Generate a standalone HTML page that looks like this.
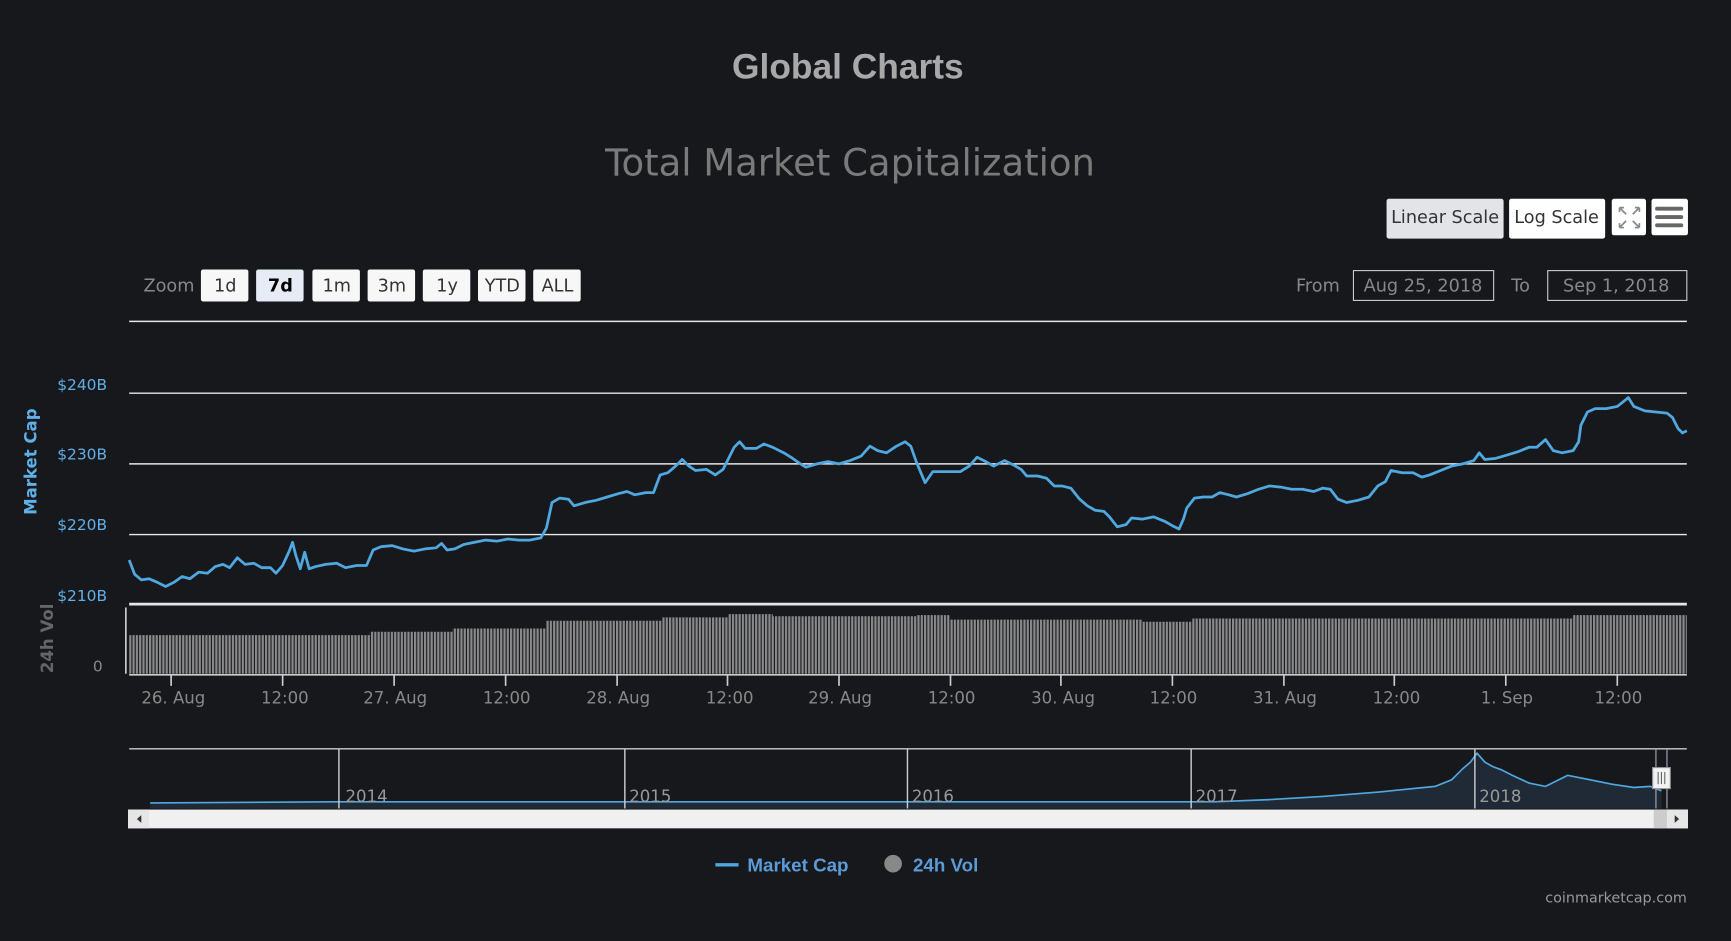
<!DOCTYPE html>
<html><head><meta charset="utf-8"><style>
html,body{margin:0;padding:0;background:#17181c;overflow:hidden}
svg{display:block}
text{font-family:"DejaVu Sans","Liberation Sans",sans-serif}
text.lib{font-family:"Liberation Sans",sans-serif}
</style></head><body>
<svg width="1731" height="941" viewBox="0 0 1568 852" preserveAspectRatio="none" xmlns="http://www.w3.org/2000/svg">
<defs>
<pattern id="bars" x="117" y="0" width="3" height="10" patternUnits="userSpaceOnUse">
<rect x="0" y="0" width="2" height="10" fill="#8a8a8a"/>
</pattern>
</defs>
<rect width="1568" height="852" fill="#17181c"/>
<text class="lib" x="768" y="71" text-anchor="middle" font-weight="bold" font-size="32" fill="#a8a8a8">Global Charts</text>
<text x="770" y="159" text-anchor="middle" font-size="33.5" fill="#7a7a7a">Total Market Capitalization</text>

<!-- top right buttons -->
<rect x="1256" y="180" width="106" height="36" rx="2" fill="#e2e4e8"/>
<text x="1309" y="202" text-anchor="middle" font-size="16" fill="#333">Linear Scale</text>
<rect x="1367" y="180" width="87" height="36" rx="2" fill="#fff"/>
<text x="1410" y="202" text-anchor="middle" font-size="16" fill="#333">Log Scale</text>
<rect x="1460" y="180" width="31" height="33" rx="2" fill="#fff"/>
<path d="M1467 188l6 6M1467 188h4M1467 188v4M1485 188l-6 6M1485 188h-4M1485 188v4M1467 206l6-6M1467 206h4M1467 206v-4M1485 206l-6-6M1485 206h-4M1485 206v-4" stroke="#888" stroke-width="1.5" fill="none"/>
<rect x="1496" y="180" width="33" height="33" rx="2" fill="#fff"/>
<path d="M1501 189h22M1501 196.5h22M1501 204h22" stroke="#666" stroke-width="3.5" stroke-linecap="round"/>

<!-- zoom -->
<text x="130" y="264" font-size="16" fill="#888">Zoom</text>
<g font-size="16" text-anchor="middle" fill="#333">
<rect x="182" y="244" width="43" height="29" rx="2" fill="#f7f7f7"/><text x="204" y="264">1d</text>
<rect x="232" y="244" width="43" height="29" rx="2" fill="#e6ebf5"/><text x="254" y="264" font-weight="bold" fill="#000">7d</text>
<rect x="283" y="244" width="43" height="29" rx="2" fill="#f7f7f7"/><text x="305" y="264">1m</text>
<rect x="333" y="244" width="43" height="29" rx="2" fill="#f7f7f7"/><text x="355" y="264">3m</text>
<rect x="383" y="244" width="43" height="29" rx="2" fill="#f7f7f7"/><text x="405" y="264">1y</text>
<rect x="433" y="244" width="43" height="29" rx="2" fill="#f7f7f7"/><text x="455" y="264">YTD</text>
<rect x="483" y="244" width="43" height="29" rx="2" fill="#f7f7f7"/><text x="505" y="264">ALL</text>
</g>
<text x="1174" y="264" font-size="16" fill="#888">From</text>
<rect x="1226" y="245" width="127" height="27" fill="none" stroke="#ccc" stroke-width="1"/>
<text x="1289" y="264" text-anchor="middle" font-size="16" fill="#888">Aug 25, 2018</text>
<text x="1369" y="264" font-size="16" fill="#888">To</text>
<rect x="1402" y="245" width="126" height="27" fill="none" stroke="#ccc" stroke-width="1"/>
<text x="1464" y="264" text-anchor="middle" font-size="16" fill="#888">Sep 1, 2018</text>

<!-- grid -->
<g stroke="#e6e6e6" stroke-width="1.3">
<line x1="117" y1="291" x2="1528" y2="291"/>
<line x1="117" y1="356" x2="1528" y2="356"/>
<line x1="117" y1="420" x2="1528" y2="420"/>
<line x1="117" y1="484" x2="1528" y2="484"/>
<line x1="117" y1="547" x2="1528" y2="547" stroke-width="2.5"/>
</g>
<g font-size="14" fill="#5fb0e8" text-anchor="end">
<text x="97" y="353">$240B</text><text x="97" y="416">$230B</text><text x="97" y="480">$220B</text><text x="97" y="544">$210B</text>
</g>
<text transform="translate(33,418) rotate(-90)" text-anchor="middle" font-size="15" font-weight="bold" fill="#5fb0e8">Market Cap</text>
<text transform="translate(48,578) rotate(-90)" text-anchor="middle" font-size="15" font-weight="bold" fill="#666">24h Vol</text>
<text x="93" y="608" text-anchor="end" font-size="14" fill="#888">0</text>

<!-- volume -->
<path d="M117 575H335V572H410V569H495V562H600V559H660V556H700V558H830V557H860V561H1035V563H1080V560H1425V557H1528V610H117Z" fill="url(#bars)"/>
<line x1="114" y1="550" x2="114" y2="610" stroke="#ccc" stroke-width="1.5"/>
<line x1="117" y1="611" x2="1528" y2="611" stroke="#ccc" stroke-width="1.5"/>

<!-- x ticks -->
<g stroke="#ccc" stroke-width="1.5">
<line x1="155" y1="611" x2="155" y2="621"/><line x1="256" y1="611" x2="256" y2="621"/><line x1="357" y1="611" x2="357" y2="621"/><line x1="458" y1="611" x2="458" y2="621"/><line x1="559" y1="611" x2="559" y2="621"/><line x1="659" y1="611" x2="659" y2="621"/><line x1="760" y1="611" x2="760" y2="621"/><line x1="861" y1="611" x2="861" y2="621"/><line x1="961" y1="611" x2="961" y2="621"/><line x1="1062" y1="611" x2="1062" y2="621"/><line x1="1163" y1="611" x2="1163" y2="621"/><line x1="1263" y1="611" x2="1263" y2="621"/><line x1="1364" y1="611" x2="1364" y2="621"/><line x1="1465" y1="611" x2="1465" y2="621"/>
</g>
<g font-size="15" fill="#888" text-anchor="middle">
<text x="157" y="637">26. Aug</text><text x="258" y="637">12:00</text><text x="358" y="637">27. Aug</text><text x="459" y="637">12:00</text><text x="560" y="637">28. Aug</text><text x="661" y="637">12:00</text><text x="761" y="637">29. Aug</text><text x="862" y="637">12:00</text><text x="963" y="637">30. Aug</text><text x="1063" y="637">12:00</text><text x="1164" y="637">31. Aug</text><text x="1265" y="637">12:00</text><text x="1365" y="637">1. Sep</text><text x="1466" y="637">12:00</text>
</g>

<!-- main line -->
<polyline fill="none" stroke="#4fa8e0" stroke-width="2.5" stroke-linejoin="round" points="117,507 122,520 128,525 135,524 142,527 150,531 158,527 165,522 172,524 180,518 188,519 195,513 202,511 208,514 215,505 222,511 230,510 237,514 245,514 250,519 256,512 262,499 265,491 268,503 272,515 276,500 280,515 286,513 295,511 305,510 313,514 323,512 332,512 338,498 345,495 355,494 365,497 375,499 385,497 395,496 400,492 405,498 412,497 420,493 430,491 440,489 450,490 460,488 470,489 480,489 490,487 495,478 500,455 507,451 515,452 520,458 530,455 540,453 550,450 560,447 568,445 575,448 585,446 592,446 598,430 605,428 612,422 618,416 624,422 630,426 640,425 648,430 655,425 660,415 665,405 670,400 675,406 685,406 692,402 700,405 710,410 718,415 725,420 730,423 740,420 750,418 760,420 770,417 780,413 788,404 795,408 803,410 812,404 820,400 825,404 830,418 835,430 838,437 845,427 855,427 862,427 870,427 878,422 885,414 893,418 900,422 910,417 918,421 925,425 930,431 940,431 948,433 955,440 962,440 970,442 978,452 985,458 992,462 1000,463 1005,468 1012,477 1020,475 1025,469 1035,470 1045,468 1055,472 1062,476 1068,479 1072,470 1075,460 1082,451 1090,450 1098,450 1105,446 1113,448 1120,450 1130,447 1140,443 1150,440 1160,441 1170,443 1180,443 1190,445 1198,442 1205,443 1212,452 1220,455 1230,453 1240,450 1248,440 1255,436 1260,426 1270,428 1280,428 1288,432 1295,430 1305,426 1315,422 1325,420 1335,417 1340,410 1345,416 1355,415 1365,412 1375,409 1385,405 1392,405 1400,398 1407,408 1415,410 1425,408 1430,400 1432,385 1438,373 1445,370 1455,370 1465,368 1470,364 1475,360 1480,368 1490,372 1500,373 1510,374 1515,378 1520,388 1524,392 1528,390"/>

<!-- navigator -->
<line x1="117" y1="678" x2="1528" y2="678" stroke="#ccc" stroke-width="1.3"/>
<path d="M136 727L300 726L1100 726L1150 724L1200 721L1250 717L1300 712L1315 706L1325 696L1332 690L1338 682L1345 690L1352 694L1360 697L1370 702L1385 709L1400 712L1420 702L1440 706L1460 710L1480 713L1495 712L1505 716L1505 732L136 732Z" fill="#1f2a36" stroke="none"/>
<polyline fill="none" stroke="#4fa8e0" stroke-width="1.5" points="136,727 300,726 1100,726 1150,724 1200,721 1250,717 1300,712 1315,706 1325,696 1332,690 1338,682 1345,690 1352,694 1360,697 1370,702 1385,709 1400,712 1420,702 1440,706 1460,710 1480,713 1495,712 1505,716"/>
<g stroke="#ccc" stroke-width="1.3">
<line x1="307" y1="678" x2="307" y2="732"/><line x1="566" y1="678" x2="566" y2="732"/><line x1="822" y1="678" x2="822" y2="732"/><line x1="1079" y1="678" x2="1079" y2="732"/><line x1="1336" y1="678" x2="1336" y2="732"/>
</g>
<g font-size="15" fill="#999">
<text x="313" y="726">2014</text><text x="570" y="726">2015</text><text x="826" y="726">2016</text><text x="1083" y="726">2017</text><text x="1340" y="726">2018</text>
</g>
<line x1="1500" y1="678" x2="1500" y2="732" stroke="#aab" stroke-width="1"/>
<line x1="1510" y1="678" x2="1510" y2="732" stroke="#aab" stroke-width="1"/>
<rect x="1497" y="695" width="16" height="19" fill="#f2f2f2" stroke="#999"/>
<path d="M1502 699v11M1505 699v11M1508 699v11" stroke="#666"/>
<!-- scrollbar -->
<rect x="116" y="733" width="1413" height="17" fill="#f0f0f0"/>
<rect x="116" y="733" width="19" height="17" fill="#e6e6e6"/>
<rect x="1498" y="733" width="12" height="17" fill="#ccc"/>
<rect x="1510" y="733" width="19" height="17" fill="#e6e6e6"/>
<path d="M128 738l-4 3.5l4 3.5z" fill="#333"/>
<path d="M1517 738l4 3.5l-4 3.5z" fill="#333"/>

<!-- legend -->
<line x1="648" y1="783" x2="669" y2="783" stroke="#4fa8e0" stroke-width="3"/>
<text class="lib" x="677" y="789" font-weight="bold" font-size="17" fill="#5b9bd8">Market Cap</text>
<circle cx="809" cy="782" r="8" fill="#888"/>
<text class="lib" x="827" y="789" font-weight="bold" font-size="17" fill="#5b9bd8">24h Vol</text>
<text x="1528" y="817" text-anchor="end" font-size="13" fill="#999">coinmarketcap.com</text>
</svg>
</body></html>
